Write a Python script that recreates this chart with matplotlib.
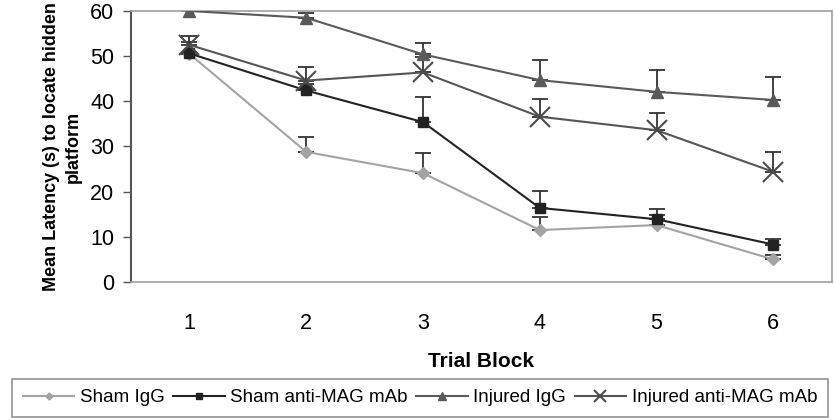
import matplotlib.pyplot as plt

blocks = [1, 2, 3, 4, 5, 6]

sham_igg = [50.5, 28.8, 24.1, 11.5, 12.6, 5.0]
sham_igg_err = [0.5, 3.4, 4.4, 3.0, 2.2, 0.9]

sham_mag = [50.6, 42.4, 35.4, 16.4, 13.9, 8.3]
sham_mag_err = [2.5, 1.5, 5.6, 3.8, 2.3, 1.2]

injured_igg = [60.0, 58.5, 50.4, 44.7, 42.1, 40.3]
injured_igg_err = [0.0, 1.0, 2.5, 4.4, 4.8, 5.1]

injured_mag = [52.5, 44.6, 46.4, 36.6, 33.6, 24.4]
injured_mag_err = [2.0, 2.9, 3.5, 4.0, 3.9, 4.4]

labels = ["Sham IgG", "Sham anti-MAG mAb", "Injured IgG", "Injured anti-MAG mAb"]

plt.rcParams["font.family"] = ["Liberation Sans", "DejaVu Sans"]

fig = plt.figure(figsize=(8.35, 4.2), dpi=100)
ax = fig.add_axes([0.157, 0.3286, 0.839, 0.6452])

series = [
    (sham_igg, sham_igg_err, "#a3a3a3", "D", 6, "#a3a3a3"),
    (sham_mag, sham_mag_err, "#222222", "s", 7, "#222222"),
    (injured_igg, injured_igg_err, "#5a5a5a", "^", 9, "#5a5a5a"),
    (injured_mag, injured_mag_err, "#555555", "x", 14, "#4a4a4a"),
]

for (vals, err, col, mk, ms, mcol), lab in zip(series, labels):
    ax.errorbar(blocks, vals, yerr=[[0] * len(err), err], fmt="none",
                ecolor="#333333", elinewidth=1.3, capsize=6, capthick=1.3, zorder=2)
    ax.plot(blocks, vals, color=col, lw=1.5, marker=mk, ms=ms,
            markerfacecolor=mcol, markeredgecolor=mcol, mew=1.5 if mk == "x" else 1,
            label=lab, zorder=3)

ax.set_xlim(0.5, 6.5)
ax.set_ylim(0, 60)
ax.set_yticks(range(0, 61, 10))
ax.set_xticks(blocks)
ax.tick_params(axis="x", length=0, pad=22, labelsize=15.5)
ax.tick_params(axis="y", length=6, width=1, color="#555555", labelsize=15.5, pad=6)

for side in ["top", "right", "bottom"]:
    ax.spines[side].set_color("#a0a0a0")
    ax.spines[side].set_linewidth(1.2)
ax.spines["left"].set_color("#555555")
ax.spines["left"].set_linewidth(1.5)

ax.set_xlabel("Trial Block", fontsize=15, fontweight="bold", labelpad=13)
ax.set_ylabel("Mean Latency (s) to locate hidden\nplatform", fontsize=13,
              fontweight="bold", labelpad=6, linespacing=1.4)

leg = fig.legend(loc="lower center", bbox_to_anchor=(0.503, 0.008), ncol=4,
                 fontsize=13.5, frameon=True, fancybox=False, edgecolor="#777777",
                 markerscale=0.6, handlelength=2.75, handletextpad=0.3,
                 columnspacing=0.45, borderpad=0.55, borderaxespad=0)
leg.get_frame().set_linewidth(1.2)

fig.savefig("out.png", dpi=100)
